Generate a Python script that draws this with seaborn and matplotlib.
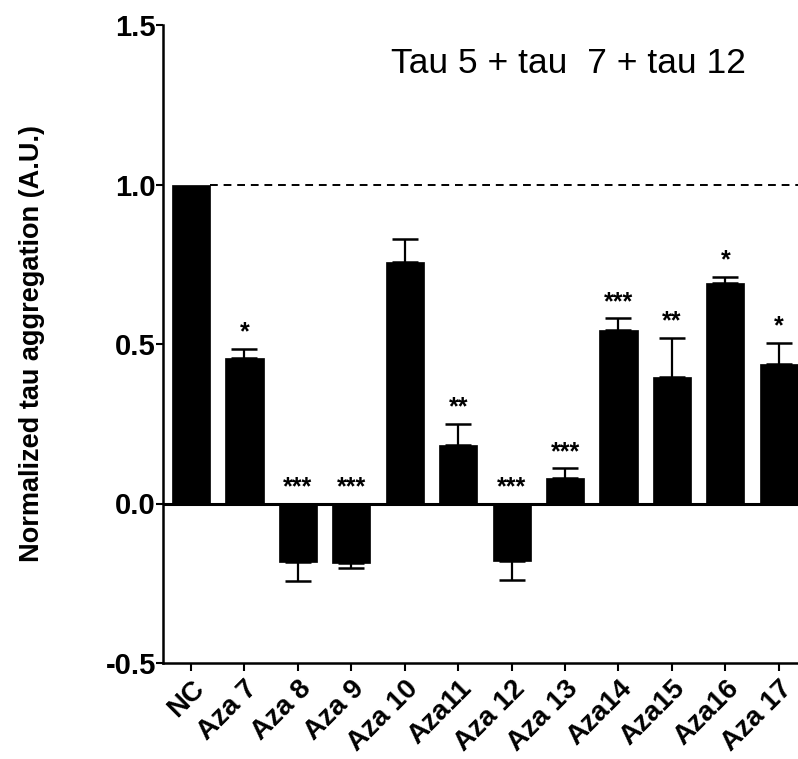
import matplotlib
matplotlib.use("Agg")
import matplotlib.pyplot as plt
import seaborn as sns
import pandas as pd
import numpy as np

# Normalized tau aggregation per compound (mean and SEM)
groups = ["NC", "Aza 7", "Aza 8", "Aza 9", "Aza 10", "Aza11", "Aza 12",
          "Aza 13", "Aza14", "Aza15", "Aza16", "Aza 17"]
means = [1.0, 0.455, -0.183, -0.188, 0.756, 0.183, -0.180, 0.081,
         0.545, 0.397, 0.690, 0.436]
sems = [0.0, 0.030, 0.059, 0.014, 0.074, 0.067, 0.061, 0.029,
        0.035, 0.123, 0.019, 0.066]
stars = ["", "*", "***", "***", "", "**", "***", "***", "***", "**", "*", "*"]
y_ticks = [-0.5, 0.0, 0.5, 1.0, 1.5]
y_tick_labels = ["-0.5", "0.0", "0.5", "1.0", "1.5"]
title = "Tau 5 + tau  7 + tau 12"
y_label = "Normalized tau aggregation (A.U.)"

df = pd.DataFrame({"group": groups, "value": means, "sem": sems})

sns.set_theme(style="ticks")
plt.rcParams["font.family"] = ["Liberation Sans", "DejaVu Sans"]
plt.rcParams.update({"text.color": "black", "axes.labelcolor": "black",
                     "xtick.color": "black", "ytick.color": "black",
                     "axes.edgecolor": "black"})

W, H = 798, 759
fig = plt.figure(figsize=(W / 100, H / 100), dpi=100)
ax = fig.add_axes([163 / W, (H - 663) / H, (W - 163) / W + 0.002, (663 - 25) / H])

sns.barplot(data=df, x="group", y="value", color="black", saturation=1,
            width=0.715, errorbar=None, ax=ax, zorder=3)
for p in ax.patches:
    p.set_edgecolor("black")
    p.set_linewidth(0.5)

# one-sided error bars pointing away from zero
x = np.arange(len(groups))
vals = np.array(means)
err = np.array(sems)
lower = np.where(vals < 0, err, 0)
upper = np.where(vals >= 0, err, 0)
mask = err > 0
ax.errorbar(x[mask], vals[mask], yerr=[lower[mask], upper[mask]], fmt="none",
            ecolor="black", elinewidth=1.6, capsize=9.5, capthick=1.8, zorder=2)

# significance markers
for xi, v, e, s in zip(x, vals, err, stars):
    if not s:
        continue
    base = v + e if v > 0 else 0.0
    ax.text(xi, base + 0.03, s, ha="center", va="baseline",
            fontsize=18, fontweight="bold", color="black", zorder=4)

# reference lines
ax.axhline(0, color="black", lw=2.2, zorder=4)
ax.plot([0.36, 11.6], [1.0, 1.0], color="black", lw=1.4,
        linestyle=(0, (4, 3)), zorder=1, clip_on=False)

ax.set_xlim(-0.525, 11.39)
ax.set_ylim(-0.5, 1.5)
ax.set_yticks(y_ticks)
ax.set_yticklabels(y_tick_labels, fontsize=21, fontweight="bold")
ax.set_xticks(x)
ax.set_xticklabels(groups, rotation=45, ha="right", rotation_mode="anchor",
                   fontsize=20, fontweight="bold")
ax.set_xlabel("")
ax.set_ylabel(y_label, fontsize=19.5, fontweight="bold", labelpad=44)
ax.tick_params(axis="y", length=5, width=1.5, pad=0)
ax.tick_params(axis="x", length=6, width=1.5, pad=3)

sns.despine(ax=ax)
ax.spines["left"].set_linewidth(1.8)
ax.spines["bottom"].set_linewidth(1.8)

ax.text(0.637, 0.94, title, transform=ax.transAxes, ha="center", va="center",
        fontsize=25.5)

fig.savefig("out.png", dpi=100)
